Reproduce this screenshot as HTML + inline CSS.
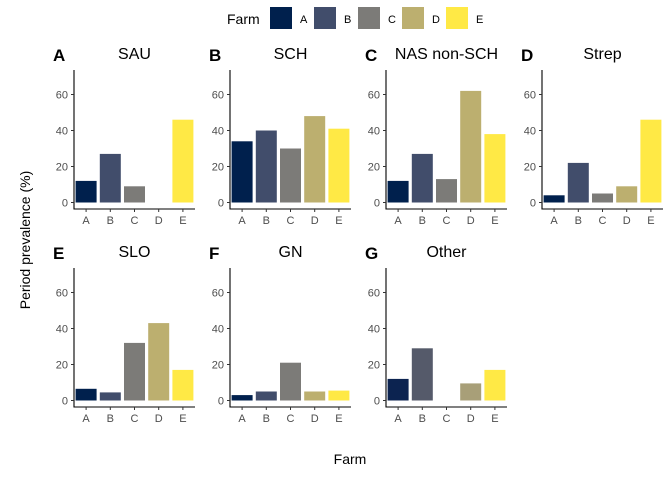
<!DOCTYPE html>
<html><head><meta charset="utf-8"><style>
body{margin:0;background:#fff;font-family:"Liberation Sans",Arial,sans-serif}
</style></head><body>
<svg id="c" width="672" height="480" xmlns="http://www.w3.org/2000/svg" font-family="Liberation Sans, Arial, sans-serif"></svg>
<script>
const categories=["A","B","C","D","E"];
const panelTitles=["SAU","SCH","NAS non-SCH","Strep","SLO","GN","Other"];
const panelTags=["A","B","C","D","E","F","G"];
const sau=[12,27,9,0,46];
const sch=[34,40,30,48,41];
const nas=[12,27,13,62,38];
const strep=[4,22,5,9,46];
const slo=[6.5,4.5,32,43,17];
const gn=[3,5,21,5,5.5];
const other=[12,29,0,9.5,17];
const yTicks=[0,20,40,60];
const series=[sau,sch,nas,strep,slo,gn,other];
const colors=["#00204d","#414d6b","#7c7b78","#bcaf6f","#ffe945"];
const otherColors=["#0c2350","#555a6a","#7c7b78","#a89f78","#ffe945"];
const svg=document.getElementById('c');
const NS="http://www.w3.org/2000/svg";
function mk(t,a,txt){const e=document.createElementNS(NS,t);for(const k in a)e.setAttribute(k,a[k]);if(txt!==undefined)e.textContent=txt;svg.appendChild(e);return e;}
// legend
let e=mk('text',{x:227,y:24,'font-size':14,fill:'#000'},'Farm');


categories.forEach((c,i)=>{
 const x=270+i*44;
 let r=mk('rect',{x:x,y:7,width:22,height:22,fill:colors[i]});
 
 
 let t=mk('text',{x:x+30,y:23,'font-size':11,fill:'#000'},c);
 
 
});
const W=121, pitch=156, ppu=1.8;
series.forEach((vals,p)=>{
 const col=p%4,row=Math.floor(p/4);
 const x0=74+col*pitch, y0=202.5+row*198, top=70+row*198, xl=209+row*198;
 const y=v=>y0-v*ppu;
 const step=W/5, bw=21;
 const xc=i=>x0+step*(i+0.5);
 let t=mk('text',{x:x0+W/2,y:59+row*198,'font-size':16,'text-anchor':'middle',fill:'#000'},panelTitles[p]);
 
 
 t=mk('text',{x:x0-21,y:61+row*198,'font-size':17,'font-weight':'bold',fill:'#000'},panelTags[p]);
 
 
 const cols=p===6?otherColors:colors;
 vals.forEach((v,i)=>{
  const r=mk('rect',{x:xc(i)-bw/2,y:y(v),width:bw,height:v*ppu,fill:cols[i]});
  
  
 });
 let a=mk('path',{d:`M${x0} ${top}V${xl}H${x0+W}`,stroke:'#000','stroke-width':1.1,fill:'none'});
 
 
 yTicks.forEach(v=>{
  mk('line',{x1:x0-3,x2:x0,y1:y(v),y2:y(v),stroke:'#333'});
  const l=mk('text',{x:x0-6,y:y(v)+4,'font-size':11,'text-anchor':'end',fill:'#4d4d4d'},v);
  
  
 });
 categories.forEach((c,i)=>{
  mk('line',{x1:xc(i),x2:xc(i),y1:xl,y2:xl+3,stroke:'#333'});
  const l=mk('text',{x:xc(i),y:xl+15,'font-size':11,'text-anchor':'middle',fill:'#4d4d4d'},c);
  
  
 });
});
e=mk('text',{x:0,y:0,'font-size':14,'text-anchor':'middle',fill:'#000',transform:'translate(30,240) rotate(-90)'},'Period prevalence (%)');


e=mk('text',{x:350,y:464,'font-size':14,'text-anchor':'middle',fill:'#000'},'Farm');


</script>
</body></html>
